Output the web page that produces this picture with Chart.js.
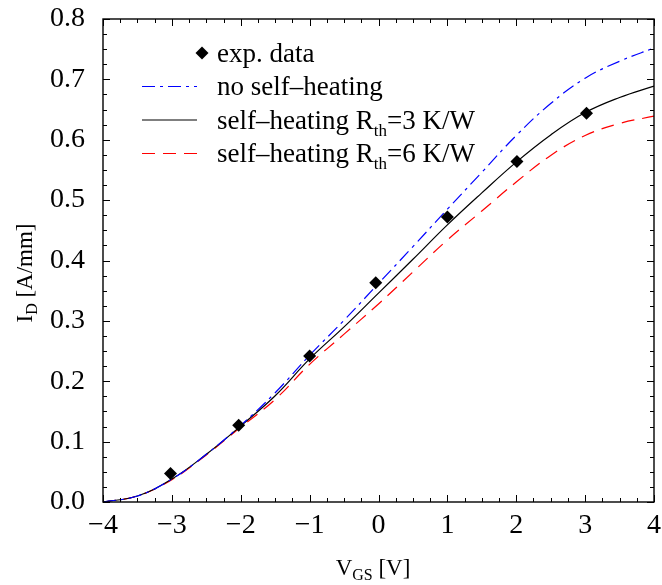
<!DOCTYPE html>
<html><head><meta charset="utf-8">
<script src="https://cdn.jsdelivr.net/npm/chart.js@4/dist/chart.umd.min.js"></script>
<style>html,body{margin:0;padding:0;background:#fff;}#wrap{width:662px;height:585px;}</style>
</head><body><div id="wrap"><canvas id="c" width="662" height="585"></canvas></div>
<script>
// ---- data ----
const vgsCurve = [-4,-3.5,-3,-2.5,-2,-1.5,-1,-0.5,0,0.5,1,1.5,2,2.5,3,3.5,4];
const idNoSelfHeating = [0,0.010,0.038,0.079,0.127,0.181,0.243,0.301,0.362,0.423,0.485,0.546,0.607,0.660,0.702,0.730,0.752];
const idRth3 = [0,0.010,0.038,0.079,0.126,0.176,0.237,0.290,0.346,0.402,0.459,0.512,0.563,0.608,0.645,0.670,0.689];
const idRth6 = [0,0.010,0.037,0.078,0.124,0.170,0.228,0.278,0.328,0.381,0.434,0.482,0.530,0.574,0.607,0.627,0.639];
const vgsExp = [-3.02,-2.03,-1.0,-0.04,1.0,2.01,3.02];
const idExp = [0.047,0.127,0.242,0.363,0.472,0.564,0.644];
const xTickLabels = [-4,-3,-2,-1,0,1,2,3,4];
const yTickLabels = [0.0,0.1,0.2,0.3,0.4,0.5,0.6,0.7,0.8];
const seriesNames = ['exp. data','no self–heating','self–heating R|th|=3 K/W','self–heating R|th|=6 K/W'];
const xTitle = ['V','GS',' [V]'];
const yTitle = ['I','D',' [A/mm]'];

const FONT = '"Liberation Serif", "Times New Roman", serif';
const pts = (xs, ys) => xs.map((x,i)=>({x:x, y:ys[i]}));
const blueDash = [13,5,3,5];
const redDash = [13,8];

function drawRich(ctx, parts, x, y, size, subSize, subDrop){
  let cx = x;
  parts.forEach((p,i)=>{
    const sub = (i%2===1);
    ctx.font = (sub?subSize:size)+'px '+FONT;
    ctx.fillText(p, cx, sub ? y+subDrop : y);
    cx += ctx.measureText(p).width;
  });
  return cx - x;
}
function richWidth(ctx, parts, size, subSize){
  let w=0;
  parts.forEach((p,i)=>{ctx.font=((i%2===1)?subSize:size)+'px '+FONT; w+=ctx.measureText(p).width;});
  return w;
}

const decor = {
  id:'decor',
  afterDraw(chart){
    const ctx = chart.ctx, a = chart.chartArea, xs = chart.scales.x, ys = chart.scales.y;
    ctx.save();
    ctx.strokeStyle = '#000';
    ctx.lineWidth = 1.4;
    ctx.setLineDash([]);
    ctx.strokeRect(a.left, a.top, a.right-a.left, a.bottom-a.top);
    ctx.lineWidth = 1;
    ctx.beginPath();
    for(let i=0;i<=32;i++){
      const p = Math.round(xs.getPixelForValue(-4+i*0.25))+0.5;
      const L = (i%4===0)?7:4;
      ctx.moveTo(p,a.bottom); ctx.lineTo(p,a.bottom-L);
      ctx.moveTo(p,a.top); ctx.lineTo(p,a.top+L);
    }
    for(let i=0;i<=32;i++){
      const p = Math.round(ys.getPixelForValue(i*0.025))+0.5;
      const L = (i%4===0)?7:4;
      ctx.moveTo(a.left,p); ctx.lineTo(a.left+L,p);
      ctx.moveTo(a.right,p); ctx.lineTo(a.right-L,p);
    }
    ctx.stroke();

    // legend
    ctx.fillStyle = '#000';
    ctx.textBaseline = 'alphabetic';
    ctx.textAlign = 'left';
    const lx0 = 142, lx1 = 197, tx = 217;
    const rows = [53, 86.5, 120, 153.5];
    const r = 6.5, dx = 202, dy = rows[0];
    ctx.beginPath();
    ctx.moveTo(dx-r,dy); ctx.lineTo(dx,dy-r); ctx.lineTo(dx+r,dy); ctx.lineTo(dx,dy+r); ctx.closePath();
    ctx.fill();
    const styles = [null,{c:'#0000ff',d:blueDash},{c:'#000000',d:[]},{c:'#ff0000',d:redDash}];
    for(let i=1;i<4;i++){
      ctx.beginPath();
      ctx.strokeStyle = styles[i].c; ctx.lineWidth = 1.2; ctx.setLineDash(styles[i].d);
      ctx.moveTo(lx0, rows[i]); ctx.lineTo(lx1, rows[i]); ctx.stroke();
    }
    ctx.setLineDash([]);
    seriesNames.forEach((n,i)=>{
      drawRich(ctx, n.split('|'), tx, rows[i]+8.5, 27, 17, 7);
    });

    // axis titles
    const xw = richWidth(ctx, xTitle, 23, 16);
    drawRich(ctx, xTitle, 373 - xw/2, 575, 23, 16, 5);
    ctx.save();
    ctx.translate(32, 273);
    ctx.rotate(-Math.PI/2);
    const yw = richWidth(ctx, yTitle, 23, 16);
    drawRich(ctx, yTitle, -yw/2, 0, 23, 16, 5);
    ctx.restore();
    ctx.restore();
  }
};

new Chart(document.getElementById('c'), {
  type:'scatter',
  data:{datasets:[
    {label:seriesNames[0], data:pts(vgsExp,idExp), pointStyle:'rectRot', pointRadius:6.5, pointHoverRadius:6.5,
     backgroundColor:'#000', borderColor:'#000', borderWidth:0, showLine:false},
    {label:seriesNames[1], data:pts(vgsCurve,idNoSelfHeating), showLine:true, pointRadius:0, borderColor:'#0000ff',
     borderWidth:1.2, borderDash:blueDash, tension:0.4, fill:false},
    {label:seriesNames[2], data:pts(vgsCurve,idRth3), showLine:true, pointRadius:0, borderColor:'#000000',
     borderWidth:1.2, tension:0.4, fill:false},
    {label:seriesNames[3], data:pts(vgsCurve,idRth6), showLine:true, pointRadius:0, borderColor:'#ff0000',
     borderWidth:1.2, borderDash:redDash, tension:0.4, fill:false}
  ]},
  options:{
    responsive:false, animation:false, devicePixelRatio:1,
    layout:{padding:{top:19,right:8,left:0,bottom:0}},
    plugins:{legend:{display:false}, tooltip:{enabled:false}},
    scales:{
      x:{type:'linear', min:-4, max:4,
        afterFit:(s)=>{s.height=83; s.paddingLeft=0; s.paddingRight=0;},
        afterBuildTicks:(s)=>{s.ticks = xTickLabels.map(v=>({value:v}));},
        grid:{display:false, drawTicks:false}, border:{display:false},
        ticks:{padding:7, color:'#000', font:{family:FONT,size:28}, maxRotation:0,
          callback:(v)=> (v<0?'\u2212'+Math.abs(v):String(v))}},
      y:{type:'linear', min:0, max:0.8,
        afterFit:(s)=>{s.width=103; s.paddingTop=0; s.paddingBottom=0;},
        afterBuildTicks:(s)=>{s.ticks = yTickLabels.map(v=>({value:v}));},
        grid:{display:false, drawTicks:false}, border:{display:false},
        ticks:{padding:18, color:'#000', font:{family:FONT,size:28},
          callback:(v)=> Number(v).toFixed(1)}}
    }
  },
  plugins:[decor]
});
</script></body></html>
